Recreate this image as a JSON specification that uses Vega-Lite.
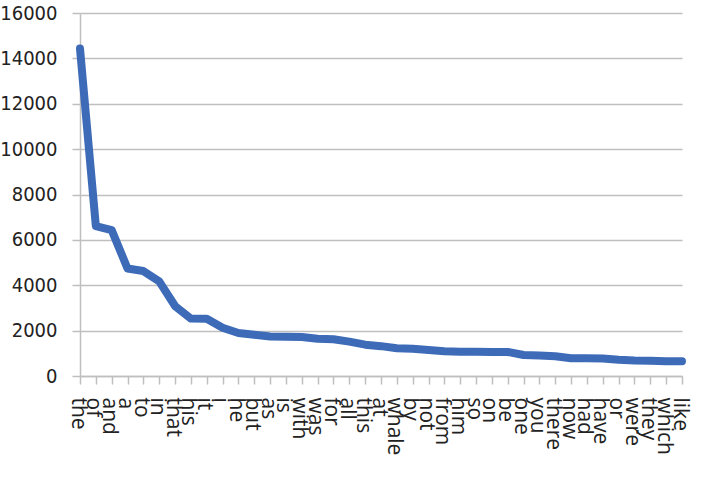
{
  "$schema": "https://vega.github.io/schema/vega-lite/v6.json",
  "width": 618,
  "height": 363,
  "autosize": "none",
  "padding": {"left": 80, "top": 13, "right": 3, "bottom": 106},
  "background": "white",
  "config": {"view": {"stroke": null}},
  "data": {
    "values": [
      {"word": "the", "count": 14431},
      {"word": "of", "count": 6609},
      {"word": "and", "count": 6430},
      {"word": "a", "count": 4736},
      {"word": "to", "count": 4625},
      {"word": "in", "count": 4172},
      {"word": "that", "count": 3085},
      {"word": "his", "count": 2530},
      {"word": "it", "count": 2522},
      {"word": "i", "count": 2127},
      {"word": "he", "count": 1896},
      {"word": "but", "count": 1818},
      {"word": "as", "count": 1741},
      {"word": "is", "count": 1725},
      {"word": "with", "count": 1722},
      {"word": "was", "count": 1644},
      {"word": "for", "count": 1617},
      {"word": "all", "count": 1515},
      {"word": "this", "count": 1382},
      {"word": "at", "count": 1316},
      {"word": "whale", "count": 1226},
      {"word": "by", "count": 1200},
      {"word": "not", "count": 1150},
      {"word": "from", "count": 1095},
      {"word": "him", "count": 1067},
      {"word": "so", "count": 1066},
      {"word": "on", "count": 1062},
      {"word": "be", "count": 1058},
      {"word": "one", "count": 925},
      {"word": "you", "count": 900},
      {"word": "there", "count": 871},
      {"word": "now", "count": 786},
      {"word": "had", "count": 779},
      {"word": "have", "count": 774},
      {"word": "or", "count": 712},
      {"word": "were", "count": 683},
      {"word": "they", "count": 670},
      {"word": "which", "count": 655},
      {"word": "like", "count": 647}
    ]
  },
  "mark": {
    "type": "line",
    "color": "#3d6bb8",
    "strokeWidth": 8,
    "strokeCap": "round",
    "strokeJoin": "round"
  },
  "encoding": {
    "x": {
      "field": "word",
      "type": "nominal",
      "sort": null,
      "scale": {"type": "point", "padding": 0, "range": [0, 602]},
      "axis": {
        "title": null,
        "labelAngle": 90,
        "labelFont": "Open Sans",
        "labelFontSize": 21,
        "labelColor": "#222222",
        "labelPadding": 13,
        "labelOffset": -3,
        "domainColor": "#bfbfbf",
        "domainWidth": 1.5,
        "tickColor": "#bfbfbf",
        "tickWidth": 1.5,
        "tickSize": 8,
        "grid": false
      }
    },
    "y": {
      "field": "count",
      "type": "quantitative",
      "scale": {"domain": [0, 16000]},
      "axis": {
        "title": null,
        "values": [0, 2000, 4000, 6000, 8000, 10000, 12000, 14000, 16000],
        "format": "d",
        "labelFont": "DejaVu Sans Condensed, Liberation Sans",
        "labelFontSize": 20,
        "labelColor": "#222222",
        "labelPadding": 15,
        "domainColor": "#bfbfbf",
        "domainWidth": 1.5,
        "tickColor": "#bfbfbf",
        "tickWidth": 1.5,
        "tickSize": 8,
        "grid": true,
        "gridColor": "#bfbfbf",
        "gridWidth": 1.5
      }
    }
  }
}
